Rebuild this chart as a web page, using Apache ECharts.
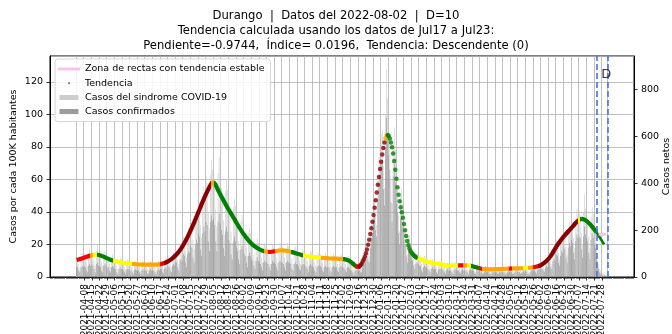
<!DOCTYPE html>
<html><head><meta charset="utf-8">
<script src="https://cdn.jsdelivr.net/npm/echarts@6/dist/echarts.min.js"></script>
<style>html,body{margin:0;padding:0;background:#fff}#c{width:672px;height:334px}</style>
</head><body><div id="c"></div>
<script>
// ---------------- DATA ----------------
const firstDay = '2021-04-01';
const axisStart = '2021-03-08';
const axisEnd = '2022-08-26';
const tickLabels = ['2021-04-01','2021-04-08','2021-04-15','2021-04-22','2021-04-29','2021-05-06','2021-05-13','2021-05-20','2021-05-27','2021-06-03','2021-06-10','2021-06-17','2021-06-24','2021-07-01','2021-07-08','2021-07-15','2021-07-22','2021-07-29','2021-08-05','2021-08-12','2021-08-19','2021-08-26','2021-09-02','2021-09-09','2021-09-16','2021-09-23','2021-09-30','2021-10-07','2021-10-14','2021-10-21','2021-10-28','2021-11-04','2021-11-11','2021-11-18','2021-11-25','2021-12-02','2021-12-09','2021-12-16','2021-12-23','2021-12-30','2022-01-06','2022-01-13','2022-01-20','2022-01-27','2022-02-03','2022-02-10','2022-02-17','2022-02-24','2022-03-03','2022-03-10','2022-03-17','2022-03-24','2022-03-31','2022-04-07','2022-04-14','2022-04-21','2022-04-28','2022-05-05','2022-05-12','2022-05-19','2022-05-26','2022-06-02','2022-06-09','2022-06-16','2022-06-23','2022-06-30','2022-07-07','2022-07-14','2022-07-21','2022-07-28','2022-08-02'];
const leftTicks = [0,20,40,60,80,100,120];
const rightTicks = [0,200,400,600,800];

// daily values from 2021-04-01 (per 100K)
const sindrome = [
13,12,8,6,12,15,13, 14,13,9,7,15,17,14, 16,14,10,7,16,20,15, 15,13,9,7,14,16,15, 12,12,8,6,12,14,12,
11,10,7,5,10,12,11, 10,9,6,5,9,11,10, 9,9,6,4,9,10,9, 9,8,6,4,8,10,9, 9,8,5,4,9,10,8,
9,8,6,4,8,10,9, 10,9,7,5,10,12,11, 13,12,8,6,13,15,14, 17,16,11,8,18,21,19, 25,24,16,12,26,30,27,
35,33,23,17,36,41,38, 49,46,32,24,50,56,52, 62,58,40,30,63,72,66, 66,60,42,31,64,74,63, 55,50,35,26,53,60,54,
44,40,28,21,43,48,44, 35,32,22,17,34,38,35, 28,26,18,13,27,30,27, 22,20,14,10,21,24,21, 19,17,12,9,18,21,19,
18,16,12,8,17,20,18, 19,17,12,9,18,21,18, 19,17,12,9,18,21,19, 18,16,11,8,17,19,17, 16,15,10,8,15,17,16,
15,13,10,7,14,16,15, 14,13,9,7,13,15,14, 14,12,9,6,13,15,13, 13,12,9,6,13,14,13, 13,12,8,6,12,14,13,
12,11,8,6,12,13,11, 9,8,6,4,8,9,8, 7,8,6,5,10,13,14, 17,19,15,13,26,33,36, 45,48,38,32,62,74,80,
88,90,68,55,100,128,110, 96,85,60,45,82,92,78, 62,55,38,28,50,54,45, 34,30,20,14,25,26,21, 18,16,11,8,14,15,13,
13,12,8,6,12,13,11, 11,10,7,5,10,11,10, 10,9,6,4,9,10,9, 9,8,6,4,8,9,8, 8,8,5,4,8,9,8,
8,8,5,4,8,9,8, 8,8,5,4,8,9,8, 7,7,4,3,7,8,7, 6,5,4,3,6,7,6, 5,5,4,3,5,6,5,
6,5,4,3,5,6,5, 6,5,4,3,6,7,6, 6,6,4,3,6,7,6, 6,6,4,3,6,7,6, 7,6,4,3,6,7,7,
7,7,5,4,7,8,8, 10,9,6,5,10,11,10, 16,15,10,8,16,18,17, 23,21,15,11,22,26,24, 30,28,19,14,29,34,31,
37,34,24,18,36,42,38, 41,38,27,20,40,51,42, 38,35,25,18,37,43,39, 33,30,21,10,8,5,4, 3,2,2,1,1,1];
const confirmados = [
6,6,4,3,6,7,6, 7,6,4,3,7,8,7, 8,7,5,3,8,9,7, 7,6,4,3,7,8,7, 6,6,4,3,6,7,6,
5,5,3,2,5,6,5, 5,4,3,2,4,5,5, 4,4,3,2,4,5,4, 4,4,3,2,4,5,4, 4,4,2,2,4,5,4,
4,4,3,2,4,5,4, 5,5,3,2,5,6,5, 7,6,4,3,7,8,7, 9,9,6,4,10,11,10, 14,13,9,6,14,16,15,
19,18,12,9,20,23,21, 27,25,17,13,27,31,28, 34,32,22,16,34,38,35, 36,32,22,16,34,39,33, 29,26,18,13,28,31,28,
23,21,14,11,22,25,22, 18,16,11,8,17,19,17, 14,13,9,6,13,15,13, 11,10,7,5,10,12,10, 9,8,6,4,9,10,9,
9,8,6,4,8,10,9, 9,8,6,4,9,10,9, 9,8,6,4,9,10,9, 9,8,5,4,8,9,8, 8,7,5,4,7,8,8,
7,6,5,3,7,8,7, 7,6,4,3,6,7,7, 7,6,4,3,6,7,6, 6,6,4,3,6,7,6, 6,6,4,3,6,7,6,
6,5,4,3,6,6,5, 4,4,3,2,4,4,4, 4,4,3,3,6,8,9, 11,13,10,9,18,24,27, 34,37,29,25,48,58,63,
70,72,54,44,80,98,88, 75,66,46,34,62,70,58, 45,40,27,20,36,38,31, 23,20,13,9,16,17,14, 11,10,7,5,8,9,8,
7,7,4,3,6,7,6, 6,5,4,3,5,6,5, 5,5,3,2,5,5,5, 5,4,3,2,4,5,4, 4,4,3,2,4,5,4,
4,4,3,2,4,5,4, 4,4,3,2,4,5,4, 4,4,2,2,4,4,4, 3,3,2,2,3,4,3, 3,3,2,2,3,3,3,
3,3,2,2,3,3,3, 3,3,2,2,3,4,3, 3,3,2,2,3,4,3, 3,3,2,2,3,4,3, 4,3,2,2,3,4,4,
4,4,3,2,4,5,5, 6,5,4,3,6,7,6, 10,9,6,5,10,11,10, 14,13,9,7,13,16,15, 18,17,12,9,18,21,19,
23,21,15,11,22,26,24, 25,24,17,12,25,31,26, 24,22,15,11,23,27,24, 20,18,13,6,5,3,2, 2,1,1,1,1,0];

// trend (days after 2021-04-01, per 100K)
const trendDay = [0,4,8,12,16,19,23,27,31,36,41,46,52,58,64,70,76,80,84,88,92,96,100,104,108,112,116,120,123,125,127,130,134,138,142,146,150,154,158,162,166,170,174,178,182,186,190,194,198,202,206,210,214,218,222,226,230,234,238,242,246,250,254,256,258,
312,316,320,325,330,335,340,345,350,355,360,364,368,372,376,380,386,392,398,404,410,416,420,424,428,432,436,440,444,448,452,456,460,464,467,470,474,478];
const trendVal = [10.5,11.3,12.2,13.0,13.6,13.7,13.0,11.8,10.6,9.6,8.9,8.4,8.0,7.7,7.6,7.6,7.8,8.4,9.6,11.5,14.0,17.5,22.0,27.5,33.5,40.0,46.5,52.5,56.5,58.3,57.5,53.5,48.5,43.5,39.0,34.5,30.0,26.0,22.5,19.8,17.8,16.4,15.6,15.4,15.8,16.3,16.4,16.0,15.3,14.5,13.7,13.1,12.6,12.3,12.0,11.8,11.6,11.4,11.3,11.2,11.0,10.2,8.3,7.0,6.3,
12.2,11.0,9.9,9.0,8.3,7.8,7.4,7.2,7.1,7.1,7.1,6.6,5.8,5.1,4.8,4.7,4.8,5.0,5.2,5.3,5.4,5.7,6.0,6.6,7.8,9.8,13.0,17.5,21.5,25.0,28.0,31.0,34.0,35.8,35.3,33.8,31.0,27.5];
// daily trend points of the fast wave, days 258..312
const dotFirstDay = 258;
const dotVal = [6.3,6.2,6.5,7.2,8.2,9.5,11.0,12.6,14.6,17.0,19.8,23.0,26.4,30.0,34.0,38.2,42.6,47.2,52.0,56.8,61.6,66.4,71.0,75.4,79.4,82.8,85.4,87.0,87.4,86.8,85.2,82.8,79.8,76.0,71.4,66.0,60.4,55.2,50.6,46.6,43.0,39.8,36.4,32.6,28.8,25.2,22.2,19.6,17.6,16.0,14.9,14.1,13.4,12.8,12.2];
// trend class segments (start day, class)
const segStart = [0,12,15,19,33,51,77,80,124,126,172,176,182,197,208,225,245,257,260,284,286,313,351,355,359,363,370,373,398,400,410,415,420,424,461,463];
const segClass = ['sube','estable+','estable','baja','estable','estable+','sube','alza','estable+','baja','estable+','sube','estable+','baja','estable','estable+','baja','sube','alza','estable+','baja','estable','sube','estable+','estable','baja','sube','estable+','sube','estable+','estable','estable+','sube','alza','estable','baja'];
const segEnd = 490;
// fitted line over the last window and stable zone
const fitDay = [478,485];
const fitVal = [27.5,20.1];
const zonaDay = [480,487];
const zonaVal = [26.3,26.3];
const markDates = ['2022-07-23','2022-08-02'];
const dMark = {date:'2022-08-01', value:124.6, text:'D'};

// ---------------- BUILD ----------------
function addDay(s){const d=new Date(s+'T00:00:00Z');d.setUTCDate(d.getUTCDate()+1);return d.toISOString().slice(0,10);}
const cats=[];for(let s=axisStart;s<=axisEnd;s=addDay(s))cats.push(s);
const off=cats.indexOf(firstDay);
const dc=d=>cats[off+d];
const labelSet=new Set(tickLabels);
const classColor={'alza':'#8b0000','sube':'#ff0000','estable+':'#ffa500','estable':'#ffff00','baja':'#008000'};
const FONT='DejaVu Sans';
const FS=9.5;

const barL=sindrome.map((v,i)=>[dc(i),v]);
const barD=confirmados.map((v,i)=>[dc(i),v]);
const tA=[],tB=[];
trendDay.forEach((d,i)=>{(d<=dotFirstDay?tA:tB).push([dc(d),trendVal[i]]);});
const dots=dotVal.map((v,i)=>[dc(dotFirstDay+i),v]);
const pieces=segStart.map((s,i)=>({gte:off+s,lt:off+(i+1<segStart.length?segStart[i+1]:segEnd),color:classColor[segClass[i]]}));

const pathBox='M0,0L0.01,0M22,7L22.01,7';
const icoZona='path://'+pathBox+'M0,2L22,2L22,5L0,5Z';
const icoDot='path://'+pathBox+'M10,3.5A1.1,1.1,0,1,0,12.2,3.5A1.1,1.1,0,1,0,10,3.5Z';
const icoRect='path://'+pathBox+'M1.5,1L20.5,1L20.5,6L1.5,6Z';

const NAME_Z='Zona de rectas con tendencia estable',NAME_T='Tendencia',NAME_S='Casos del sindrome COVID-19',NAME_C='Casos confirmados';

const chart=echarts.init(document.getElementById('c'),null,{renderer:'canvas'});
chart.setOption({
  animation:false,
  backgroundColor:'#fff',
  textStyle:{fontFamily:FONT},
  title:{text:'Durango  |  Datos del 2022-08-02  |  D=10\nTendencia calculada usando los datos de Jul17 a Jul23:\nPendiente=-0.9744,  Índice= 0.0196,  Tendencia: Descendente (0)',
    left:'center',top:4,padding:[5,0,0,12],
    textStyle:{fontFamily:FONT,fontSize:11.6,fontWeight:'normal',color:'#000',lineHeight:14.6}},
  grid:{left:50,right:38,top:56,bottom:57,containLabel:false,outerBoundsMode:'none',show:true,borderColor:'#000',borderWidth:1,backgroundColor:'transparent'},
  legend:{orient:'vertical',left:55,top:59,itemWidth:22,itemHeight:7,itemGap:2.2,padding:[4,6,4,3],
    backgroundColor:'rgba(255,255,255,0.85)',borderColor:'#d6d6d6',borderWidth:1,borderRadius:3,selectedMode:false,
    textStyle:{fontFamily:FONT,fontSize:FS,color:'#000',lineHeight:12},
    data:[{name:NAME_Z,icon:icoZona,itemStyle:{color:'#f6c4ee',borderWidth:0}},
          {name:NAME_T,icon:icoDot,itemStyle:{color:'#7f7f7f',borderWidth:0}},
          {name:NAME_S,icon:icoRect,itemStyle:{color:'#cdcdcd',borderWidth:0}},
          {name:NAME_C,icon:icoRect,itemStyle:{color:'#9c9c9c',borderWidth:0}}]},
  visualMap:{show:false,type:'piecewise',dimension:0,seriesIndex:[2,3,4],pieces:pieces,outOfRange:{color:'#008000'}},
  xAxis:[{type:'category',data:cats,boundaryGap:true,
      axisLine:{show:true,lineStyle:{color:'#000',width:1}},
      axisTick:{show:true,alignWithLabel:true,length:3.5,lineStyle:{color:'#000',width:0.8},interval:(i,v)=>labelSet.has(v)},
      axisLabel:{show:true,rotate:90,margin:7,fontSize:9,color:'#000',fontFamily:FONT,interval:(i,v)=>labelSet.has(v)},
      splitLine:{show:true,lineStyle:{color:'#b0b0b0',width:0.8},interval:(i,v)=>labelSet.has(v)}},
    {type:'category',data:cats,boundaryGap:true,position:'bottom',gridIndex:0,
      axisLine:{show:false},axisLabel:{show:false},splitLine:{show:false},
      axisTick:{show:true,alignWithLabel:true,length:2,interval:0,lineStyle:{color:'#333',width:0.6}}}],
  yAxis:[{type:'value',min:0,max:136,interval:20,position:'left',
      name:'Casos por cada 100K habitantes',nameLocation:'middle',nameGap:31,nameRotate:90,nameMoveOverlap:false,
      nameTextStyle:{fontFamily:FONT,fontSize:FS,color:'#000'},
      axisLine:{show:true,lineStyle:{color:'#000',width:1}},
      axisTick:{show:true,length:3.5,lineStyle:{color:'#000',width:0.8}},
      axisLabel:{margin:7,fontSize:FS,color:'#000',fontFamily:FONT,showMaxLabel:false,formatter:v=>leftTicks.includes(v)?String(v):''},
      splitLine:{show:true,lineStyle:{color:'#b0b0b0',width:0.8}}},
    {type:'value',min:0,max:943,interval:200,position:'right',
      name:'Casos netos',nameLocation:'middle',nameGap:28,nameRotate:90,nameMoveOverlap:false,
      nameTextStyle:{fontFamily:FONT,fontSize:FS,color:'#000'},
      axisLine:{show:true,lineStyle:{color:'#000',width:1}},
      axisTick:{show:true,length:3.5,lineStyle:{color:'#000',width:0.8}},
      axisLabel:{margin:7,fontSize:FS,color:'#000',fontFamily:FONT,showMaxLabel:false,formatter:v=>rightTicks.includes(v)?String(v):''},
      splitLine:{show:false}}],
  series:[
    {name:NAME_S,type:'bar',data:barL,barWidth:0.55,barMinWidth:0.5,barGap:'-100%',itemStyle:{color:'#c4c4c4'},z:1,silent:true},
    {name:NAME_C,type:'bar',data:barD,barWidth:0.55,barMinWidth:0.5,barGap:'-100%',itemStyle:{color:'#8f8f8f'},z:1,silent:true},
    {name:NAME_T,type:'line',data:tA,smooth:0.3,symbol:'none',lineStyle:{width:4.2},itemStyle:{color:'#7f7f7f'},z:3},
    {name:NAME_T,type:'line',data:tB,smooth:0.3,symbol:'none',lineStyle:{width:4.2},itemStyle:{color:'#7f7f7f'},z:3},
    {name:NAME_T,type:'scatter',data:dots,symbol:'circle',symbolSize:4.5,itemStyle:{color:'#7f7f7f'},z:3},
    {name:NAME_T,type:'line',data:fitDay.map((d,i)=>[dc(d),fitVal[i]]),symbol:'none',lineStyle:{width:2.6,color:'#008000'},itemStyle:{color:'#008000'},z:3},
    {name:NAME_Z,type:'line',data:zonaDay.map((d,i)=>[dc(d),zonaVal[i]]),symbol:'none',lineStyle:{width:3,color:'#f6c4ee'},itemStyle:{color:'#f6c4ee'},z:4,
      markLine:{silent:true,symbol:['none','none'],label:{show:false},lineStyle:{color:'#4a72e8',type:[6,3],width:1.6},data:markDates.map(d=>({xAxis:d}))}},
    {name:'D',type:'scatter',data:[[dMark.date,dMark.value]],symbolSize:1,itemStyle:{color:'rgba(0,0,0,0)'},z:5,
      label:{show:true,position:'inside',formatter:dMark.text,fontSize:13,color:'#000',fontFamily:FONT}}
  ]
});
</script></body></html>
